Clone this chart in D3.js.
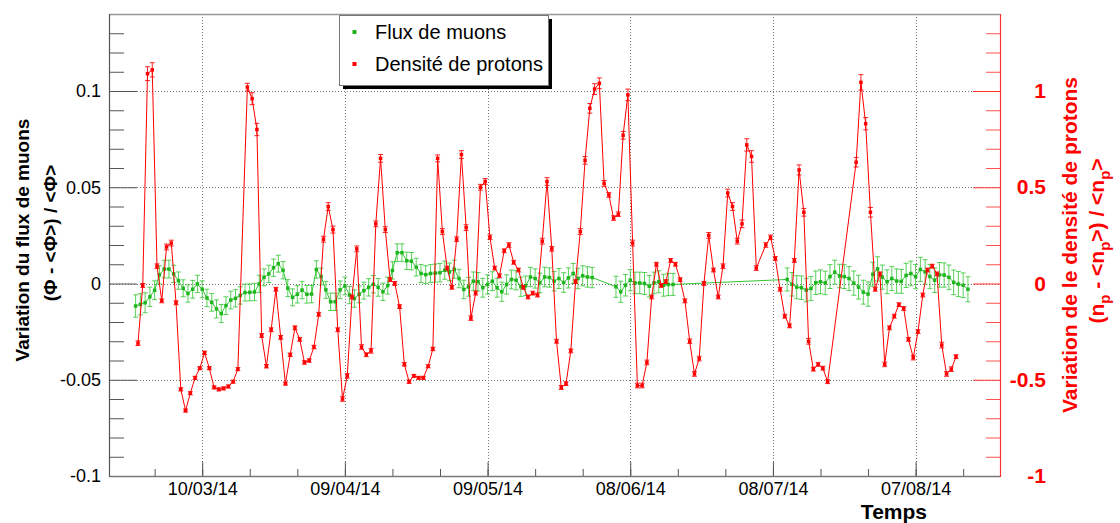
<!DOCTYPE html>
<html>
<head>
<meta charset="utf-8">
<script src="https://cdn.jsdelivr.net/npm/d3@7"></script>
<style>
  body { margin: 0; background: #fff; }
  svg { display: block; font-family: "Liberation Sans", Arial, Helvetica, sans-serif; }
</style>
</head>
<body>
<svg id="chart" width="1120" height="523"></svg>
<script>
// ---- Data ---------------------------------------------------------------
// Daily relative muon flux variation, first value on 24/02/14 (null = no data)
const muonStart = "2014-02-24T00:00:00Z";
const muonFlux = [
  -0.0117,-0.0108,-0.0100,-0.0069,-0.0035, 0.0045, 0.0075, 0.0075, 0.0050, 0.0015,
  -0.0025,-0.0052,-0.0030,-0.0002,-0.0030,-0.0075,-0.0098,-0.0132,-0.0156,-0.0115,
  -0.0086,-0.0077,-0.0062,-0.0047,-0.0046,-0.0044,-0.0002, 0.0032, 0.0050, 0.0082,
   0.0103, 0.0069,-0.0024,-0.0072,-0.0056,-0.0034,-0.0056,-0.0055, 0.0073, 0.0036,
  -0.0033,-0.0095,-0.0095,-0.0033,-0.0013,-0.0060,-0.0078,-0.0056,-0.0037,-0.0020,
  -0.0004,-0.0020,-0.0043,-0.0011, 0.0068, 0.0160, 0.0160, 0.0118, 0.0116, 0.0085,
   0.0052, 0.0046, 0.0052, 0.0054, 0.0056, 0.0069, 0.0060, 0.0074, 0.0026,-0.0031,
  -0.0017, 0.0012, 0.0009,-0.0022,-0.0005, 0.0012,-0.0022,-0.0043,-0.0005, 0.0021,
   0.0017,-0.0017,-0.0012, 0.0034, 0.0026, 0.0003, 0.0034, 0.0031, 0.0012, 0.0026,
   0.0005, 0.0029, 0.0052, 0.0026, 0.0040, 0.0034, 0.0031,
  null, null, null, null,
  -0.0017,-0.0043,-0.0009, 0.0017, 0.0003, 0.0003, 0.0000,-0.0014, 0.0003, 0.0009,
  -0.0009,-0.0005,-0.0005,
  null, null, null, null, null, null, null, null, null, null, null, null,
  null, null, null, null, null, null, null, null, null, null, null,
   0.0021,-0.0004,-0.0019,-0.0022,-0.0034,-0.0026, 0.0004, 0.0009, 0.0003, 0.0036,
   0.0059, 0.0039, 0.0036, 0.0026, 0.0002,-0.0019,-0.0045,-0.0055, 0.0048, 0.0076,
   0.0033, 0.0009, 0.0026, 0.0013, 0.0011, 0.0042, 0.0052, 0.0036, 0.0073, 0.0060,
   0.0036, 0.0017, 0.0045, 0.0044, 0.0032, 0.0006,-0.0003,-0.0009,-0.0030
];
const muonError = [
  .0058,.0055,.0052,.0050,.0049,.0047,.0046,.0046,.0045,.0045,
  .0044,.0045,.0046,.0045,.0044,.0045,.0046,.0047,.0047,.0046,
  .0046,.0045,.0045,.0044,.0044,.0045,.0045,.0044,.0045,.0045,
  .0044,.0045,.0044,.0044,.0045,.0045,.0046,.0045,.0045,.0044,
  .0044,.0045,.0045,.0046,.0046,.0045,.0045,.0044,.0044,.0045,
  .0045,.0046,.0045,.0044,.0045,.0046,.0046,.0045,.0045,.0046,
  .0047,.0046,.0046,.0047,.0048,.0047,.0046,.0047,.0048,.0048,
  .0049,.0048,.0048,.0049,.0050,.0049,.0049,.0050,.0050,.0049,
  .0050,.0050,.0051,.0050,.0050,.0051,.0051,.0050,.0051,.0052,
  .0051,.0052,.0052,.0053,.0052,.0053,.0053,
  null, null, null, null,
  .0055,.0055,.0056,.0055,.0056,.0056,.0057,.0056,.0056,.0057,
  .0057,.0058,.0057,
  null, null, null, null, null, null, null, null, null, null, null, null,
  null, null, null, null, null, null, null, null, null, null, null,
  .0060,.0061,.0060,.0061,.0061,.0062,.0061,.0062,.0061,.0062,
  .0062,.0061,.0062,.0062,.0063,.0062,.0062,.0063,.0062,.0063,
  .0063,.0062,.0063,.0063,.0062,.0063,.0064,.0063,.0063,.0064,
  .0063,.0064,.0064,.0063,.0064,.0064,.0065,.0064,.0065
];

// Daily relative proton density variation, first value on 24/02/14 at noon
const protonStart = "2014-02-24T12:00:00Z";
const protonDensity = [
  -0.31,-0.01, 1.09, 1.11, 0.09,-0.09, 0.19, 0.21,-0.10,-0.55,
  -0.66,-0.57,-0.49,-0.44,-0.36,-0.44,-0.54,-0.55,-0.545,-0.535,
  -0.51,-0.445, null, 1.02, 0.96, 0.80,-0.27,-0.43,-0.24,-0.03,
  -0.28,-0.52,-0.37,-0.23,-0.29,-0.41,-0.40,-0.33,-0.16, 0.23,
   0.40, 0.28,-0.24,-0.60,-0.48,-0.07, 0.18,-0.33,-0.37,-0.35,
   0.31, 0.65, 0.28, 0.02, 0.00,-0.12,-0.42,-0.51,-0.48,-0.49,
  -0.49,-0.43,-0.34, 0.65, 0.27, 0.08,-0.02, 0.23, 0.67, 0.29,
  -0.18,-0.05, 0.50, 0.53, 0.24, 0.08, 0.04, 0.17, 0.20, 0.11,
   0.07,-0.02,-0.07,-0.05,-0.06, 0.22, 0.53, 0.18,-0.30,-0.54,
  -0.52,-0.35, 0.01, 0.27, 0.64, 0.91, 1.01, 1.04, 0.52, 0.46,
   0.34, 0.36, 0.77, 0.98, 0.21,-0.53,-0.53,-0.41,-0.07, 0.10,
  -0.01, 0.01, 0.12, 0.10, 0.02,-0.09,-0.30,-0.47,-0.39, 0.00,
   0.25, 0.07,-0.07, 0.09, 0.47, 0.40, 0.22, 0.31, 0.72, 0.66,
   0.08, null, 0.20, 0.24, 0.13,-0.03,-0.17,-0.22, 0.12, 0.59,
   0.37,-0.30,-0.445,-0.42,-0.44,-0.51, null, null, null, null,
   null, 0.63, 1.045, 0.83, 0.37,-0.03, 0.05,-0.42,-0.23,-0.17,
  -0.11,-0.13,-0.29,-0.385,-0.25,-0.06, 0.07, 0.09, 0.05,-0.32,
  -0.47,-0.445,-0.38
];
const protonError = [
  .012,.010,.036,.037,.012,.010,.015,.015,.010,.008,
  .008,.008,.008,.008,.009,.008,.008,.008,.008,.008,
  .008,.008,null,.020,.031,.032,.010,.009,.010,.010,
  .010,.008,.009,.010,.010,.009,.009,.009,.010,.015,
  .020,.018,.010,.012,.012,.010,.015,.012,.010,.012,
  .015,.020,.015,.010,.010,.010,.009,.009,.008,.008,
  .008,.008,.009,.018,.015,.010,.010,.012,.020,.015,
  .012,.010,.015,.015,.012,.010,.010,.010,.012,.010,
  .010,.010,.010,.010,.010,.015,.020,.012,.010,.010,
  .010,.010,.010,.015,.020,.025,.028,.028,.015,.012,
  .012,.012,.020,.030,.015,.012,.012,.012,.010,.010,
  .010,.010,.010,.010,.010,.010,.012,.012,.012,.010,
  .015,.010,.010,.012,.020,.020,.015,.020,.032,.030,
  .012,null,.012,.012,.010,.010,.010,.010,.010,.026,
  .020,.015,.010,.010,.010,.010,null,null,null,null,
  null,.025,.040,.032,.025,.010,.010,.012,.010,.010,
  .010,.010,.010,.012,.010,.010,.010,.010,.010,.015,
  .012,.012,.010
];

// Axis ticks and labels
const timeTicks = ["2014-03-10", "2014-04-09", "2014-05-09", "2014-06-08", "2014-07-08", "2014-08-07"];
const timeTickLabels = ["10/03/14", "09/04/14", "09/05/14", "08/06/14", "08/07/14", "07/08/14"];
const fluxTicks = [-0.1, -0.05, 0, 0.05, 0.1];
const fluxTickLabels = ["-0.1", "-0.05", "0", "0.05", "0.1"];
const densityTicks = [-1, -0.5, 0, 0.5, 1];
const densityTickLabels = ["-1", "-0.5", "0", "0.5", "1"];
const legendLabels = ["Flux de muons", "Densité de protons"];

// ---- Layout -------------------------------------------------------------
const frame = { left: 110, right: 1000, top: 14, bottom: 476 };
const MUON = "#2fc62f", MUON_MARK = "#1fb51f", PROTON = "#ff0000";

const svg = d3.select("#chart");
svg.append("rect").attr("width", 1120).attr("height", 523).attr("fill", "#fff");

const x = d3.scaleUtc()
  .domain([new Date("2014-02-18T14:44:00Z"), new Date("2014-08-24T17:50:00Z")])
  .range([frame.left, frame.right]);
const yFlux = d3.scaleLinear().domain([-0.1, 0.14]).range([frame.bottom, frame.top]);
const yDensity = d3.scaleLinear().domain([-1, 1.4]).range([frame.bottom, frame.top]);

const majorDates = timeTicks.map(s => new Date(s + "T00:00:00Z"));
const minorDates = d3.range(-1, 17).map(k => d3.utcDay.offset(majorDates[0], 10 * k))
  .filter(d => x(d) > frame.left && x(d) < frame.right);

// ---- Grid ---------------------------------------------------------------
const grid = svg.append("g").attr("stroke", "#777").attr("stroke-width", 1)
  .attr("stroke-dasharray", "1,2");
grid.selectAll("line.v").data(majorDates).join("line").attr("class", "v")
  .attr("x1", d => Math.round(x(d)) + 0.5).attr("x2", d => Math.round(x(d)) + 0.5)
  .attr("y1", frame.top).attr("y2", frame.bottom);
grid.selectAll("line.h").data(fluxTicks.filter(v => v > -0.1)).join("line").attr("class", "h")
  .attr("x1", frame.left).attr("x2", frame.right)
  .attr("y1", d => Math.round(yFlux(d)) + 0.5).attr("y2", d => Math.round(yFlux(d)) + 0.5);

// ---- Axes ---------------------------------------------------------------
function styleAxis(g, color, width) {
  g.select(".domain").remove();
  g.selectAll(".tick line").attr("stroke", color).attr("stroke-width", width || 1);
}

// left axis (muon flux)
const leftMinor = d3.range(-9, 14).map(k => k / 100).filter(v => Math.abs(v * 20 - Math.round(v * 20)) > 1e-6);
svg.append("g").attr("transform", `translate(${frame.left},0)`)
  .call(d3.axisLeft(yFlux).tickValues(leftMinor).tickSize(-14).tickFormat(() => ""))
  .call(g => styleAxis(g, "#555"));
svg.append("g").attr("transform", `translate(${frame.left},0)`)
  .call(d3.axisLeft(yFlux).tickValues(fluxTicks).tickSize(-27).tickPadding(9)
    .tickFormat((d, i) => fluxTickLabels[i]))
  .call(g => styleAxis(g, "#555"))
  .call(g => g.selectAll("text").attr("font-size", 18).attr("fill", "#000")
    .attr("font-family", "Liberation Sans, Arial, sans-serif"));

// bottom axis (time)
svg.append("g").attr("transform", `translate(0,${frame.bottom})`)
  .call(d3.axisBottom(x).tickValues(minorDates).tickSize(-7).tickFormat(() => ""))
  .call(g => styleAxis(g, "#555"));
svg.append("g").attr("transform", `translate(0,${frame.bottom})`)
  .call(d3.axisBottom(x).tickValues(majorDates).tickSize(-14).tickPadding(6.5)
    .tickFormat((d, i) => timeTickLabels[i]))
  .call(g => styleAxis(g, "#555"))
  .call(g => g.selectAll("text").attr("font-size", 18).attr("fill", "#000")
    .attr("font-family", "Liberation Sans, Arial, sans-serif"));

// right axis (proton density)
const rightMinor = d3.range(-9, 14).map(k => k / 10).filter(v => Math.abs(v * 2 - Math.round(v * 2)) > 1e-6);
svg.append("g").attr("transform", `translate(${frame.right},0)`)
  .call(d3.axisRight(yDensity).tickValues(rightMinor).tickSize(-14).tickFormat(() => ""))
  .call(g => styleAxis(g, "#ff5050"));
svg.append("g").attr("transform", `translate(${frame.right},0)`)
  .call(d3.axisRight(yDensity).tickValues(densityTicks).tickSize(-27).tickPadding(46)
    .tickFormat((d, i) => densityTickLabels[i]))
  .call(g => styleAxis(g, "#ff3030"))
  .call(g => g.selectAll("text").attr("font-size", 21).attr("font-weight", "bold")
    .attr("fill", PROTON).attr("text-anchor", "end")
    .attr("font-family", "Liberation Sans, Arial, sans-serif"));

// frame lines
svg.append("line").attr("x1", frame.left).attr("x2", frame.right)
  .attr("y1", frame.top + 0.5).attr("y2", frame.top + 0.5).attr("stroke", "#999").attr("stroke-width", 1.5);
svg.append("line").attr("x1", frame.left).attr("x2", frame.right)
  .attr("y1", frame.bottom + 0.5).attr("y2", frame.bottom + 0.5).attr("stroke", "#777").attr("stroke-width", 1.5);
svg.append("line").attr("x1", frame.left - 0.5).attr("x2", frame.left - 0.5)
  .attr("y1", frame.top).attr("y2", frame.bottom + 1).attr("stroke", "#555").attr("stroke-width", 1.2);
svg.append("line").attr("x1", frame.right + 0.5).attr("x2", frame.right + 0.5)
  .attr("y1", frame.top).attr("y2", frame.bottom + 1).attr("stroke", "#ff3030").attr("stroke-width", 1.2);

// ---- Series -------------------------------------------------------------
function buildSeries(start, values, errors) {
  const t0 = new Date(start);
  return values.map((v, i) => ({ t: d3.utcDay.offset(t0, i), v, e: errors[i] }))
    .filter(d => d.v !== null);
}
const muons = buildSeries(muonStart, muonFlux, muonError);
const protons = buildSeries(protonStart, protonDensity, protonError);

function drawGraph(data, y, lineColor, markColor, barOpacity) {
  const g = svg.append("g");
  g.append("path").datum(data)
    .attr("fill", "none").attr("stroke", lineColor).attr("stroke-width", 1)
    .attr("d", d3.line().x(d => x(d.t)).y(d => y(d.v)));
  const bars = g.append("g").attr("stroke", lineColor).attr("stroke-width", 1)
    .attr("stroke-opacity", barOpacity);
  bars.selectAll("line.bar").data(data).join("line").attr("class", "bar")
    .attr("x1", d => x(d.t)).attr("x2", d => x(d.t))
    .attr("y1", d => y(d.v - d.e)).attr("y2", d => y(d.v + d.e));
  bars.selectAll("line.capHi").data(data).join("line").attr("class", "capHi")
    .attr("x1", d => x(d.t) - 2.5).attr("x2", d => x(d.t) + 2.5)
    .attr("y1", d => y(d.v + d.e)).attr("y2", d => y(d.v + d.e));
  bars.selectAll("line.capLo").data(data).join("line").attr("class", "capLo")
    .attr("x1", d => x(d.t) - 2.5).attr("x2", d => x(d.t) + 2.5)
    .attr("y1", d => y(d.v - d.e)).attr("y2", d => y(d.v - d.e));
  g.selectAll("rect.mark").data(data).join("rect").attr("class", "mark")
    .attr("x", d => x(d.t) - 1.75).attr("y", d => y(d.v) - 1.75)
    .attr("width", 3.5).attr("height", 3.5).attr("fill", markColor);
}
drawGraph(muons, yFlux, MUON, MUON_MARK, 0.8);
drawGraph(protons, yDensity, PROTON, PROTON, 0.85);

// ---- Legend -------------------------------------------------------------
const legend = svg.append("g");
legend.append("rect").attr("x", 343).attr("y", 19).attr("width", 209).attr("height", 70).attr("fill", "#000");
legend.append("rect").attr("x", 339.5).attr("y", 15.5).attr("width", 209).attr("height", 70)
  .attr("fill", "#fff").attr("stroke", "#777").attr("stroke-width", 1);
const legendColors = [MUON_MARK, PROTON];
legendLabels.forEach((label, i) => {
  const cy = 32 + i * 32;
  legend.append("rect").attr("x", 352.5).attr("y", cy - 2).attr("width", 4).attr("height", 4)
    .attr("fill", legendColors[i]);
  legend.append("text").attr("x", 375).attr("y", cy + 7).attr("font-size", 20).attr("fill", "#000")
    .text(label);
});

// ---- Titles -------------------------------------------------------------
svg.append("text").attr("transform", "translate(29,240) rotate(-90)")
  .attr("text-anchor", "middle").attr("font-size", 19).attr("font-weight", "bold")
  .text("Variation du flux de muons");
svg.append("text").attr("transform", "translate(57,233) rotate(-90)")
  .attr("text-anchor", "middle").attr("font-size", 19).attr("font-weight", "bold")
  .text("(Φ - <Φ>) / <Φ>");

svg.append("text").attr("transform", "translate(1077,245) rotate(-90)")
  .attr("text-anchor", "middle").attr("font-size", 21).attr("font-weight", "bold")
  .attr("fill", PROTON).text("Variation de le densité de protons");
const sub = svg.append("text").attr("transform", "translate(1104,241) rotate(-90)")
  .attr("text-anchor", "middle").attr("font-size", 21).attr("font-weight", "bold")
  .attr("fill", PROTON);
[["(n", 0], ["p", 1], [" - <n", -1], ["p", 1], [">) / <n", -1], ["p", 1], [">", -1]].forEach(([s, k]) => {
  const t = sub.append("tspan").text(s);
  if (k === 1) t.attr("font-size", 15).attr("dy", 6);
  if (k === -1) t.attr("dy", -6);
});

svg.append("text").attr("x", 927).attr("y", 518.5).attr("text-anchor", "end")
  .attr("font-size", 21).attr("font-weight", "bold").text("Temps");
</script>
</body>
</html>
